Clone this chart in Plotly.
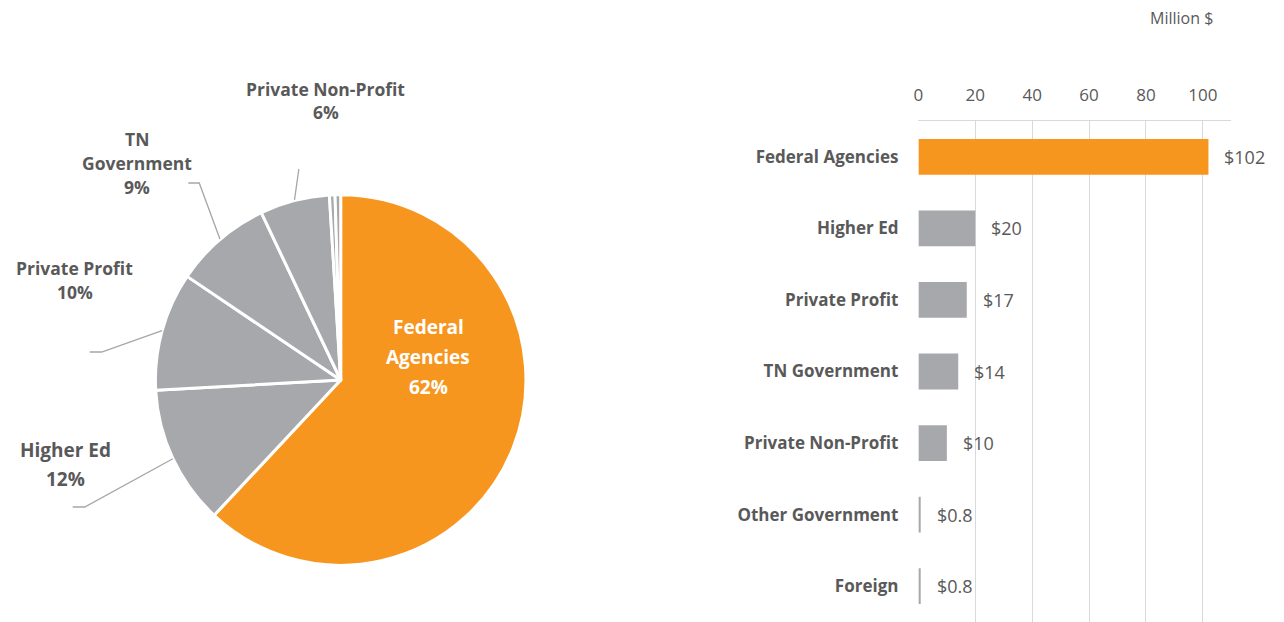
import math
import plotly.graph_objects as go

# ---------------- data ----------------
categories = ["Federal Agencies", "Higher Ed", "Private Profit", "TN Government",
              "Private Non-Profit", "Other Government", "Foreign"]
values = [102, 20, 17, 14, 10, 0.8, 0.8]          # Million $
pie_label_lines = [["Federal", "Agencies"], ["Higher Ed"], ["Private Profit"],
                   ["TN", "Government"], ["Private Non-Profit"], [], []]
x_ticks = [0, 20, 40, 60, 80, 100]

ORANGE = "#F7961F"
GRAY = "#A7A8AC"
TEXT = "#595959"
FONT = "Open Sans"

W, H = 1284, 622


def px(x):
    return x / W


def py(y):
    return 1 - y / H


# ---------------- layout constants ----------------
PIE_CX, PIE_CY, PIE_R = 337, 380, 186
BAR_X0, BAR_X1 = 917, 1231
BAR_Y0, BAR_Y1 = 121, 622

colors = [ORANGE] + [GRAY] * (len(values) - 1)
total = sum(values)
pcts = [round(v / total * 100) for v in values]

fig = go.Figure()

fig.add_trace(go.Pie(
    values=values, labels=categories, sort=False, direction="clockwise", rotation=0,
    marker=dict(colors=colors, line=dict(color="white", width=3)),
    textinfo="none", hoverinfo="label+percent", showlegend=False,
    domain=dict(x=[px(PIE_CX - PIE_R), px(PIE_CX + PIE_R)],
                y=[py(PIE_CY + PIE_R), py(PIE_CY - PIE_R)]),
))

fig.add_trace(go.Bar(
    x=values, y=categories, orientation="h", marker=dict(color=colors, line=dict(width=0)),
    width=0.5, xaxis="x", yaxis="y", showlegend=False,
))

annotations = []
shapes = []

# value labels on bars
for c, v in zip(categories, values):
    annotations.append(dict(
        x=v, y=c, xref="x", yref="y", xanchor="left", yanchor="middle", xshift=14,
        text=f"${v:g}", showarrow=False, font=dict(family=FONT, size=18, color=TEXT)))

annotations.append(dict(x=px(1181), y=py(18), xref="paper", yref="paper", text="Million $",
                        showarrow=False, xanchor="center", yanchor="middle",
                        font=dict(family=FONT, size=16, color=TEXT)))

# pie labels: first-line position, line spacing, leader elbow points per slice
label_pos = {
    0: dict(x=425, y0=327, dy=30, pts=None, color="white", size=19),
    1: dict(x=61, y0=450, dy=29, pts=[(68, 507), (80, 507)], color=TEXT, size=19),
    2: dict(x=70, y0=268, dy=24, pts=[(85, 352), (97, 352)], color=TEXT, size=17.5),
    3: dict(x=133, y0=139, dy=24, pts=[(184, 183), (195, 183)], color=TEXT, size=17.5),
    4: dict(x=322, y0=89, dy=23, pts=[(295, 169)], color=TEXT, size=17.5),
}

cum = 0.0
for i, v in enumerate(values):
    frac_mid = (cum + v / 2) / total
    cum += v
    if i not in label_pos:
        continue
    info = label_pos[i]
    lines = pie_label_lines[i] + [f"{pcts[i]}%"]
    for k, line in enumerate(lines):
        annotations.append(dict(
            x=px(info["x"]), y=py(info["y0"] + k * info["dy"]), xref="paper", yref="paper",
            text=f"<b>{line}</b>", showarrow=False,
            xanchor="center", yanchor="middle", align="center",
            font=dict(family=FONT, size=info["size"], color=info["color"])))
    if info["pts"]:
        ang = frac_mid * 2 * math.pi
        sx = PIE_CX + PIE_R * math.sin(ang)
        sy = PIE_CY - PIE_R * math.cos(ang)
        pts = info["pts"] + [(sx, sy)]
        path = "M " + " L ".join(f"{px(a):.5f},{py(b):.5f}" for a, b in pts)
        shapes.append(dict(type="path", path=path, xref="paper", yref="paper",
                           line=dict(color="#A6A6A6", width=1.3)))

fig.update_layout(
    width=W, height=H, margin=dict(l=0, r=0, t=0, b=0),
    paper_bgcolor="white", plot_bgcolor="white",
    font=dict(family=FONT, color=TEXT),
    annotations=annotations, shapes=shapes,
    bargap=0.5,
    xaxis=dict(domain=[px(BAR_X0), px(BAR_X1)], range=[0, 110], side="top",
               tickvals=x_ticks, ticks="", ticklabelstandoff=12,
               tickfont=dict(family=FONT, size=17, color=TEXT),
               showgrid=True, gridcolor="#D9D9D9", gridwidth=1,
               zeroline=False, showline=True, linecolor="#D9D9D9", linewidth=1,
               mirror=False, fixedrange=True),
    yaxis=dict(domain=[py(BAR_Y1), py(BAR_Y0)], type="category",
               categoryorder="array", categoryarray=categories, autorange="reversed",
               ticks="", ticklabelstandoff=19, showgrid=False, zeroline=False, showline=False,
               tickfont=dict(family=FONT, size=17, color=TEXT, weight="bold"),
               fixedrange=True),
)

fig.write_html("out.html", config={"displayModeBar": False},
               post_script="document.body.style.margin='0px';")
